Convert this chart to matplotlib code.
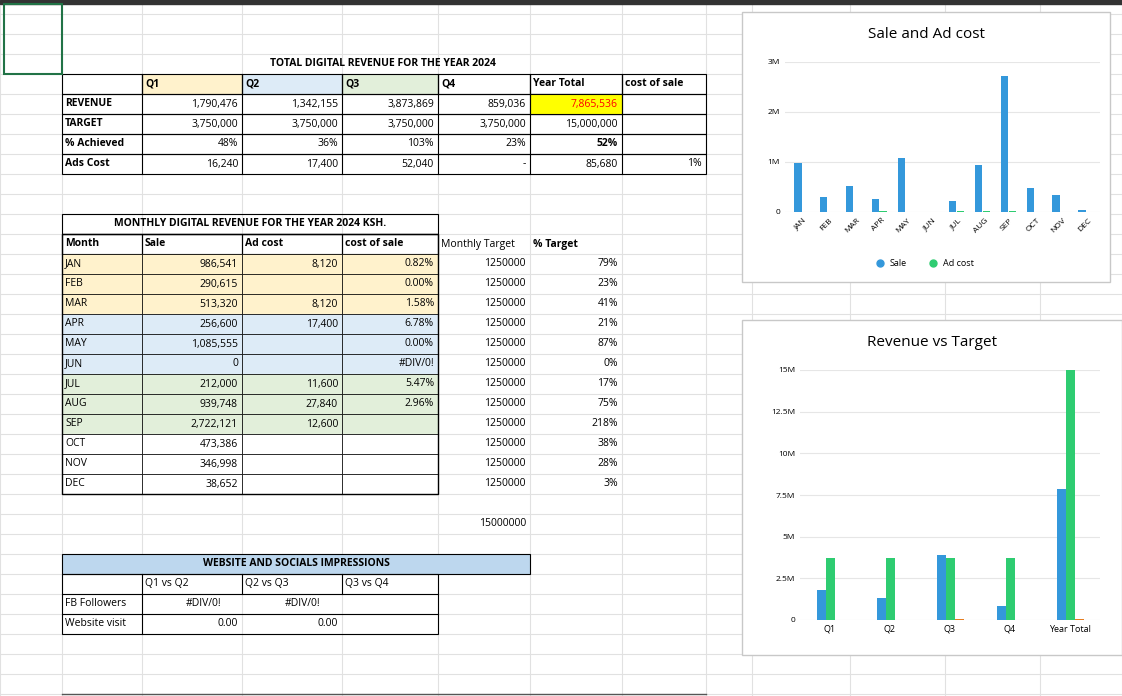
import matplotlib
matplotlib.use("Agg")
import matplotlib.pyplot as plt
from matplotlib.patches import Rectangle
import numpy as np

plt.rcParams['font.family'] = ['Open Sans', 'DejaVu Sans']

quarters = ["Q1", "Q2", "Q3", "Q4"]
q_revenue = [1790476, 1342155, 3873869, 859036]
q_target = [3750000, 3750000, 3750000, 3750000]
q_ads = [16240, 17400, 52040, 0]
year_total = [7865536, 15000000, 85680]

months = ["JAN","FEB","MAR","APR","MAY","JUN","JUL","AUG","SEP","OCT","NOV","DEC"]
sale = [986541, 290615, 513320, 256600, 1085555, 0, 212000, 939748, 2722121, 473386, 346998, 38652]
ad_cost = [8120, 0, 8120, 17400, 0, 0, 11600, 27840, 12600, 0, 0, 0]
sale_txt = ["986,541","290,615","513,320","256,600","1,085,555","0","212,000","939,748","2,722,121","473,386","346,998","38,652"]
ad_txt = ["8,120","","8,120","17,400","","","11,600","27,840","12,600","","",""]
cos_txt = ["0.82%","0.00%","1.58%","6.78%","0.00%","#DIV/0!","5.47%","2.96%","","","",""]
pct_target = ["79%","23%","41%","21%","87%","0%","17%","75%","218%","38%","28%","3%"]

W, H = 1122, 696
fig = plt.figure(figsize=(W/100, H/100), dpi=100)
ax = fig.add_axes([0, 0, 1, 1])
ax.set_xlim(0, W); ax.set_ylim(H, 0); ax.axis('off')

FS = 7.5
cols = [0, 62, 142, 242, 342, 438, 530, 622, 706, 752, 850, 945, 1040, 1122]
for y in range(14, H, 20):
    ax.plot([0, W], [y, y], color='#e1e1e1', lw=0.8, zorder=0)
for x in cols:
    ax.plot([x, x], [0, H], color='#e1e1e1', lw=0.8, zorder=0)
ax.add_patch(Rectangle((0, 0), W, 4, color='#333333', zorder=5))
ax.add_patch(Rectangle((4, 4), 58, 70, fill=False, ec='#217346', lw=1.5, zorder=6))

def rect(x0, y0, x1, y1, fc='none', ec='black', lw=0.8, z=1):
    ax.add_patch(Rectangle((x0, y0), x1-x0, y1-y0, fc=fc, ec=ec, lw=lw, zorder=z))

def txt(x, y, s, ha='left', bold=False, color='black', fs=FS):
    ax.text(x, y, s, ha=ha, va='center', fontsize=fs, color=color,
            fontweight='bold' if bold else 'normal', zorder=4)

YEL, BLU, GRN = '#fff2cc', '#ddebf7', '#e2efda'

# Table 1
txt(383, 64, "TOTAL DIGITAL REVENUE FOR THE YEAR 2024", ha='center', bold=True)
rect(142, 74, 242, 94, fc=YEL, ec='none')
rect(242, 74, 342, 94, fc=BLU, ec='none')
rect(342, 74, 438, 94, fc=GRN, ec='none')
for x0, x1 in zip(cols[1:8], cols[2:9]):
    rect(x0, 74, x1, 94)
for i in range(4):
    rect(62, 94+20*i, 706, 114+20*i)
for x in cols[2:8]:
    ax.plot([x, x], [74, 174], color='black', lw=0.8, zorder=2)
for x, s in zip(cols[2:6], quarters):
    txt(x+3, 84, s, bold=True)
txt(533, 84, "Year Total", bold=True); txt(625, 84, "cost of sale", bold=True)
labels1 = ["REVENUE", "TARGET", "% Achieved", "Ads Cost"]
rows1 = [[f"{v:,}" for v in q_revenue] + ["7,865,536"],
         [f"{v:,}" for v in q_target] + ["15,000,000"],
         ["48%", "36%", "103%", "23%", "52%"],
         ["16,240", "17,400", "52,040", "-", "85,680"]]
rect(530, 94, 622, 114, fc='#ffff00', ec='black', z=1)
for i, (lab, row) in enumerate(zip(labels1, rows1)):
    y = 104 + 20*i
    txt(65, y, lab, bold=True)
    for j, s in enumerate(row):
        xr = cols[j+3] - 4
        txt(xr, y, s, ha='right', color='red' if (i == 0 and j == 4) else 'black',
            bold=(i == 2 and j == 4))
txt(702, 164, "1%", ha='right')

# Table 2
rect(62, 214, 438, 234)
txt(250, 224, "MONTHLY DIGITAL REVENUE FOR THE YEAR 2024 KSH.", ha='center', bold=True)
for x0, x1, h in zip([62, 142, 242, 342], [142, 242, 342, 438], ["Month", "Sale", "Ad cost", "cost of sale"]):
    rect(x0, 234, x1, 254)
    txt(x0+3, 244, h, bold=True)
txt(441, 244, "Monthly Target"); txt(533, 244, "% Target", bold=True)
fills = [YEL]*3 + [BLU]*3 + [GRN]*3 + ['white']*3
for i, m in enumerate(months):
    y0 = 254 + 20*i; y = y0 + 10
    for x0, x1 in zip([62, 142, 242, 342], [142, 242, 342, 438]):
        rect(x0, y0, x1, y0+20, fc=fills[i], ec='black', lw=0.5)
    txt(65, y, m)
    txt(238, y, sale_txt[i], ha='right')
    txt(338, y, ad_txt[i], ha='right')
    txt(434, y, cos_txt[i], ha='right')
    txt(526, y, "1250000", ha='right')
    txt(618, y, pct_target[i], ha='right')
rect(62, 234, 438, 494, lw=1)
txt(526, 524, "15000000", ha='right')

# Table 3
rect(62, 554, 530, 574, fc='#bdd7ee')
txt(296, 564, "WEBSITE AND SOCIALS IMPRESSIONS", ha='center', bold=True)
for x, s in zip([145, 245, 345], ["Q1 vs Q2", "Q2 vs Q3", "Q3 vs Q4"]):
    txt(x, 584, s)
for x in [142, 242, 342]:
    ax.plot([x, x], [574, 594], color='black', lw=0.8)
rect(62, 574, 438, 634)
ax.plot([62, 438], [594, 594], color='black', lw=0.8)
ax.plot([62, 438], [614, 614], color='black', lw=0.8)
ax.plot([142, 142], [594, 634], color='black', lw=0.8)
txt(65, 604, "FB Followers"); txt(65, 624, "Website visit")
txt(221, 604, "#DIV/0!", ha='right'); txt(320, 604, "#DIV/0!", ha='right')
txt(238, 624, "0.00", ha='right'); txt(338, 624, "0.00", ha='right')
ax.plot([62, 706], [694, 694], color='#555555', lw=1)

# Chart frames
rect(742, 12, 1110, 282, fc='white', ec='#c8c8c8', lw=1, z=3)
rect(742, 320, 1122, 655, fc='white', ec='#c8c8c8', lw=1, z=3)

BLUE, GREEN, ORANGE = '#3498db', '#2ecc71', '#e67e22'

def fax(x0, y0, x1, y1):
    return fig.add_axes([x0/W, 1-y1/H, (x1-x0)/W, (y1-y0)/H])

# Chart 1
a1 = fax(785, 62, 1100, 212)
x = np.arange(len(months))
a1.bar(x-0.1, sale, width=0.28, color=BLUE)
a1.bar(x+0.2, ad_cost, width=0.28, color=GREEN)
a1.set_ylim(0, 3000000)
a1.set_yticks([0, 1e6, 2e6, 3e6]); a1.set_yticklabels(["0", "1M", "2M", "3M"], fontsize=6)
a1.set_xticks(x); a1.set_xticklabels(months, rotation=45, fontsize=6)
a1.set_xlim(-0.6, 11.6)
for s in a1.spines.values(): s.set_visible(False)
a1.grid(axis='y', color='#e6e6e6', lw=0.8); a1.set_axisbelow(True)
a1.tick_params(length=0)
fig.text(926/W, 1-35/H, "Sale and Ad cost", ha='center', va='center', fontsize=11)
ax.plot([880], [263], 'o', color=BLUE, ms=5, zorder=5); txt(890, 263, "Sale", fs=6.5)
ax.plot([933], [263], 'o', color=GREEN, ms=5, zorder=5); txt(943, 263, "Ad cost", fs=6.5)

# Chart 2
a2 = fax(800, 370, 1100, 620)
cats = quarters + ["Year Total"]
rev = q_revenue + [year_total[0]]
tgt = q_target + [year_total[1]]
ads = q_ads + [year_total[2]]
x2 = np.arange(len(cats))
a2.bar(x2-0.15, rev, width=0.15, color=BLUE)
a2.bar(x2, tgt, width=0.15, color=GREEN)
a2.bar(x2+0.15, ads, width=0.15, color=ORANGE)
a2.set_ylim(0, 15000000)
yt = [0, 2.5e6, 5e6, 7.5e6, 10e6, 12.5e6, 15e6]
a2.set_yticks(yt); a2.set_yticklabels(["0", "2.5M", "5M", "7.5M", "10M", "12.5M", "15M"], fontsize=6)
a2.set_xticks(x2); a2.set_xticklabels(cats, fontsize=6.5)
a2.set_xlim(-0.5, 4.5)
for s in a2.spines.values(): s.set_visible(False)
a2.grid(axis='y', color='#e6e6e6', lw=0.8); a2.set_axisbelow(True)
a2.tick_params(length=0)
fig.text(932/W, 1-343/H, "Revenue vs Target", ha='center', va='center', fontsize=11)

fig.savefig("out.png", dpi=100)
